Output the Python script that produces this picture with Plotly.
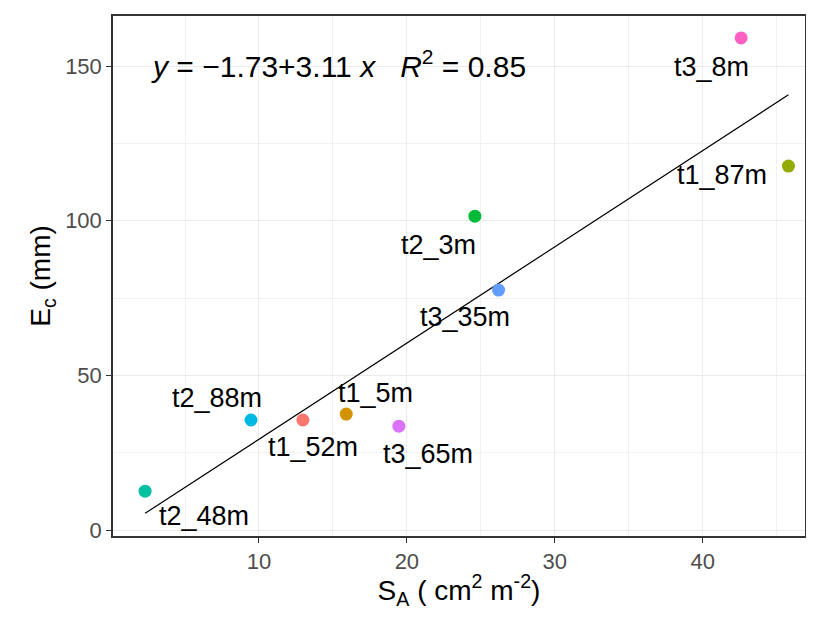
import plotly.graph_objects as go

# ---- data ----
names = ["t1_52m", "t1_5m", "t1_87m", "t2_3m", "t2_48m", "t2_88m", "t3_35m", "t3_65m", "t3_8m"]
sa = [12.97, 15.9, 45.8, 24.6, 2.3, 9.46, 26.2, 19.46, 42.6]
ec = [35.6, 37.5, 117.7, 101.5, 12.6, 35.6, 77.6, 33.6, 159.1]
intercept = -1.73
slope = 3.11
r2 = 0.85

# ---- style ----
colors = ["#F8766D", "#D39200", "#93AA00", "#00BA38", "#00C19F",
          "#00B9E3", "#619CFF", "#DB72FB", "#FF61C3"]
label_shift = {  # pixel offsets of the text labels (repel-like placement)
    "t1_52m": (10, -27), "t1_5m": (29, 21), "t1_87m": (-66, -9),
    "t2_3m": (-36, -29), "t2_48m": (59, -25), "t2_88m": (-34, 22),
    "t3_35m": (-34, -27), "t3_65m": (29, -28), "t3_8m": (-30, -29),
}
FONT = "Liberation Sans, Arial, sans-serif"

fig = go.Figure()

# regression line over the data range
xmin, xmax = min(sa), max(sa)
fig.add_trace(go.Scatter(
    x=[xmin, xmax], y=[intercept + slope * xmin, intercept + slope * xmax],
    mode="lines", line=dict(color="black", width=1.2), showlegend=False,
    hoverinfo="skip"))

for n, x, y, c in zip(names, sa, ec, colors):
    fig.add_trace(go.Scatter(x=[x], y=[y], mode="markers", name=n,
                             marker=dict(color=c, size=13), showlegend=False))
    dx, dy = label_shift[n]
    fig.add_annotation(x=x, y=y, text=n, showarrow=False, xshift=dx, yshift=dy,
                       font=dict(family=FONT, size=27, color="black"))

fig.add_annotation(
    x=15.4, y=150, xref="x", yref="y", showarrow=False, yshift=2,
    text=f"<i>y</i> = \u2212{abs(intercept):.2f}+{slope:.2f} <i>x</i>   <i>R</i><sup>2</sup> = {r2:.2f}",
    font=dict(family=FONT, size=30, color="black"))

axis_common = dict(
    showline=True, mirror=True, linecolor="#333333", linewidth=1.5,
    showgrid=True, gridcolor="#EBEBEB", gridwidth=1.2,
    ticks="outside", ticklen=5, tickwidth=1, tickcolor="#333333",
    tickfont=dict(family=FONT, size=22, color="#4D4D4D"),
    zeroline=False, automargin=False,
)

fig.update_xaxes(
    range=[0.13, 46.92], tickvals=[10, 20, 30, 40],
    minor=dict(tickvals=[5, 15, 25, 35, 45], showgrid=True, gridcolor="#F1F1F1",
               gridwidth=0.8, ticks=""),
    title=dict(text="S<sub>A</sub> ( cm<sup>2</sup> m<sup>-2</sup>)",
               font=dict(family=FONT, size=28, color="black"), standoff=6),
    **axis_common)
fig.update_yaxes(
    range=[-1.9, 166.2], tickvals=[0, 50, 100, 150],
    minor=dict(tickvals=[25, 75, 125], showgrid=True, gridcolor="#F1F1F1",
               gridwidth=0.8, ticks=""),
    title=dict(text="E<sub>c</sub> (mm)",
               font=dict(family=FONT, size=28, color="black"), standoff=6),
    **axis_common)

# the page body has an 8px margin: size the figure so the plot area lands
# where the reference has it and nothing is clipped
fig.update_layout(
    width=798, height=602,
    margin=dict(l=105, r=1, t=8, b=74),
    paper_bgcolor="white", plot_bgcolor="white",
    showlegend=False,
)

fig.write_html("out.html")
